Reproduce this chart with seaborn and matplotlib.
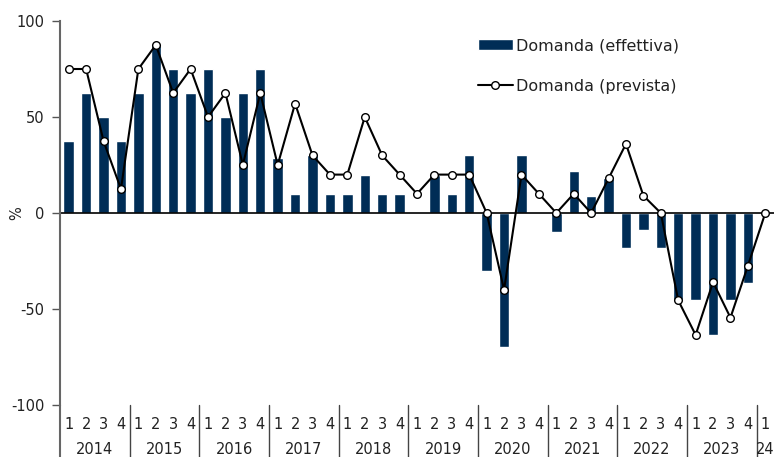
import numpy as np
import pandas as pd
import matplotlib.pyplot as plt
import seaborn as sns

# Quarter / year labels
years = ["2014", "2015", "2016", "2017", "2018", "2019", "2020", "2021", "2022", "2023", "24"]
quarters = ["1", "2", "3", "4"] * 10 + ["1"]

# Domanda effettiva (bars)
effettiva = [37.5, 62.5, 50, 37.5,
             62.5, 87.5, 75, 62.5,
             75, 50, 62.5, 75,
             28.5, 10, 30, 10,
             10, 20, 10, 10,
             0, 20, 10, 30,
             -30, -70, 30, 0,
             -10, 22, 9, 18,
             -18, -9, -18, -45.5,
             -45.5, -63.5, -45.5, -36.5,
             0]

# Domanda prevista (line)
prevista = [75, 75, 37.5, 12.5,
            75, 87.5, 62.5, 75,
            50, 62.5, 25, 62.5,
            25, 57, 30, 20,
            20, 50, 30, 20,
            10, 20, 20, 20,
            0, -40, 20, 10,
            0, 10, 0, 18,
            36, 9, 0, -45.5,
            -63.5, -36, -54.5, -27.5,
            0]

navy = "#002D56"
txt = "#222222"
n = len(effettiva)
df = pd.DataFrame({"pos": np.arange(n), "effettiva": effettiva, "prevista": prevista})

sns.set_style("white")
plt.rcParams["font.family"] = ["DejaVu Sans"]

fig = plt.figure(figsize=(7.74, 4.57), dpi=100)
ax = fig.add_axes([60 / 774, 52 / 457, 714 / 774, 384 / 457])

sns.barplot(data=df, x="pos", y="effettiva", color=navy, width=0.6,
            saturation=1, ax=ax, label="Domanda (effettiva)")
sns.lineplot(data=df, x="pos", y="prevista", color="black", linewidth=1.5,
             marker="o", markersize=5.5, markerfacecolor="white",
             markeredgecolor="black", markeredgewidth=1, ax=ax,
             label="Domanda (prevista)")

ax.set_xlim(-0.5, n - 0.5)
ax.set_ylim(-100, 100)
ax.axhline(0, color="black", linewidth=1.2, zorder=1)

ax.set_yticks([-100, -50, 0, 50, 100])
ax.set_yticklabels(["-100", "-50", "0", "50", "100"])
ax.tick_params(axis="y", left=True, length=6, width=1, color="#555555",
               labelsize=10.5, labelcolor=txt, pad=5)
ax.set_xticks([])
ax.set_xlabel("")
ax.set_ylabel("%", fontsize=10.5, color=txt)
ax.yaxis.set_label_coords(-0.05, 0.5)

for s in ["top", "right", "bottom"]:
    ax.spines[s].set_visible(False)
ax.spines["left"].set_color("#666666")
ax.spines["left"].set_linewidth(1.5)
# extend the y spine down through the label area
ax.plot([-0.5, -0.5], [0, -0.14], transform=ax.get_xaxis_transform(),
        color="#666666", linewidth=1.5, clip_on=False)

trans = ax.get_xaxis_transform()
for i, q in enumerate(quarters):
    ax.text(i, -0.05, q, transform=trans, ha="center", va="center",
            fontsize=10.5, color=txt)
for k, y in enumerate(years):
    if k < 10:
        ax.text(4 * k + 1.5, -0.115, y, transform=trans, ha="center",
                va="center", fontsize=10.5, color=txt)
        ax.plot([4 * k + 3.5] * 2, [0, -0.14], transform=trans,
                color="#444444", linewidth=1, clip_on=False)
    else:
        ax.text(4 * k, -0.115, y, transform=trans, ha="center",
                va="center", fontsize=10.5, color=txt)

handles, labels = ax.get_legend_handles_labels()
order = [labels.index("Domanda (effettiva)"), labels.index("Domanda (prevista)")]
leg = ax.legend([handles[i] for i in order], [labels[i] for i in order],
                loc="upper left", bbox_to_anchor=(0.585, 0.955), frameon=False,
                fontsize=11.5, handlelength=2.2, handletextpad=0.2,
                labelspacing=1.6, borderaxespad=0, borderpad=0)
for t in leg.get_texts():
    t.set_color(txt)

fig.savefig("out.png", dpi=100)
